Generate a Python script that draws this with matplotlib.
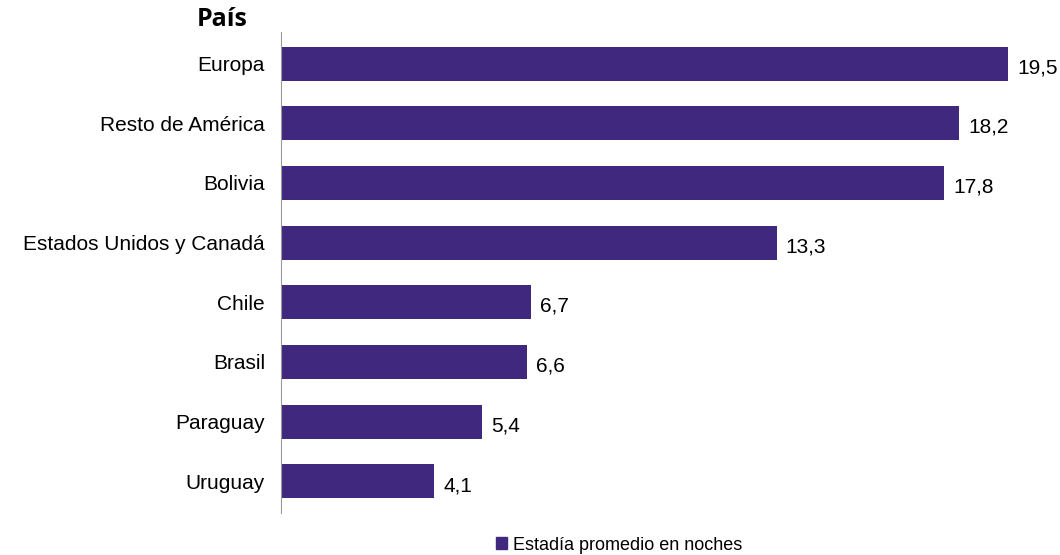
import matplotlib
matplotlib.use('Agg')
import matplotlib.pyplot as plt
from matplotlib.patches import Patch

# Datos
paises = ['Europa', 'Resto de América', 'Bolivia', 'Estados Unidos y Canadá',
          'Chile', 'Brasil', 'Paraguay', 'Uruguay']
estadia = [19.5, 18.2, 17.8, 13.3, 6.7, 6.6, 5.4, 4.1]
serie = 'Estadía promedio en noches'
color = '#40287F'

plt.rcParams['font.family'] = ['Liberation Sans', 'DejaVu Sans']

fig = plt.figure(figsize=(10.6, 5.55), dpi=100)
ax = fig.add_axes([0.265, 0.0757, 0.726, 0.8667])

pos = list(range(len(paises)))
ax.barh(pos, estadia, height=0.57, color=color)
ax.set_ylim(len(paises) - 0.47, -0.53)
ax.set_xlim(0, 20.65)
ax.set_yticks(pos)
ax.set_yticklabels(paises, fontsize=15)
ax.tick_params(axis='y', length=0, pad=11.5)
ax.set_xticks([])

for p, v in zip(pos, estadia):
    ax.text(v + 0.25, p + 0.07, f'{v:.1f}'.replace('.', ','), va='center',
            ha='left', fontsize=15)

for s in ['top', 'right', 'bottom']:
    ax.spines[s].set_visible(False)
ax.spines['left'].set_color('#999999')
ax.spines['left'].set_linewidth(0.8)

fig.text(0.186, 0.965, 'País', fontsize=18, fontweight='bold',
         family=['Open Sans', 'DejaVu Sans'], va='center', ha='left')

fig.legend(handles=[Patch(color=color, label=serie)], loc='center',
           bbox_to_anchor=(0.584, 0.018), frameon=False, fontsize=13,
           handlelength=0.6, handleheight=0.6, handletextpad=0.3)

fig.savefig('out.png', dpi=100)
